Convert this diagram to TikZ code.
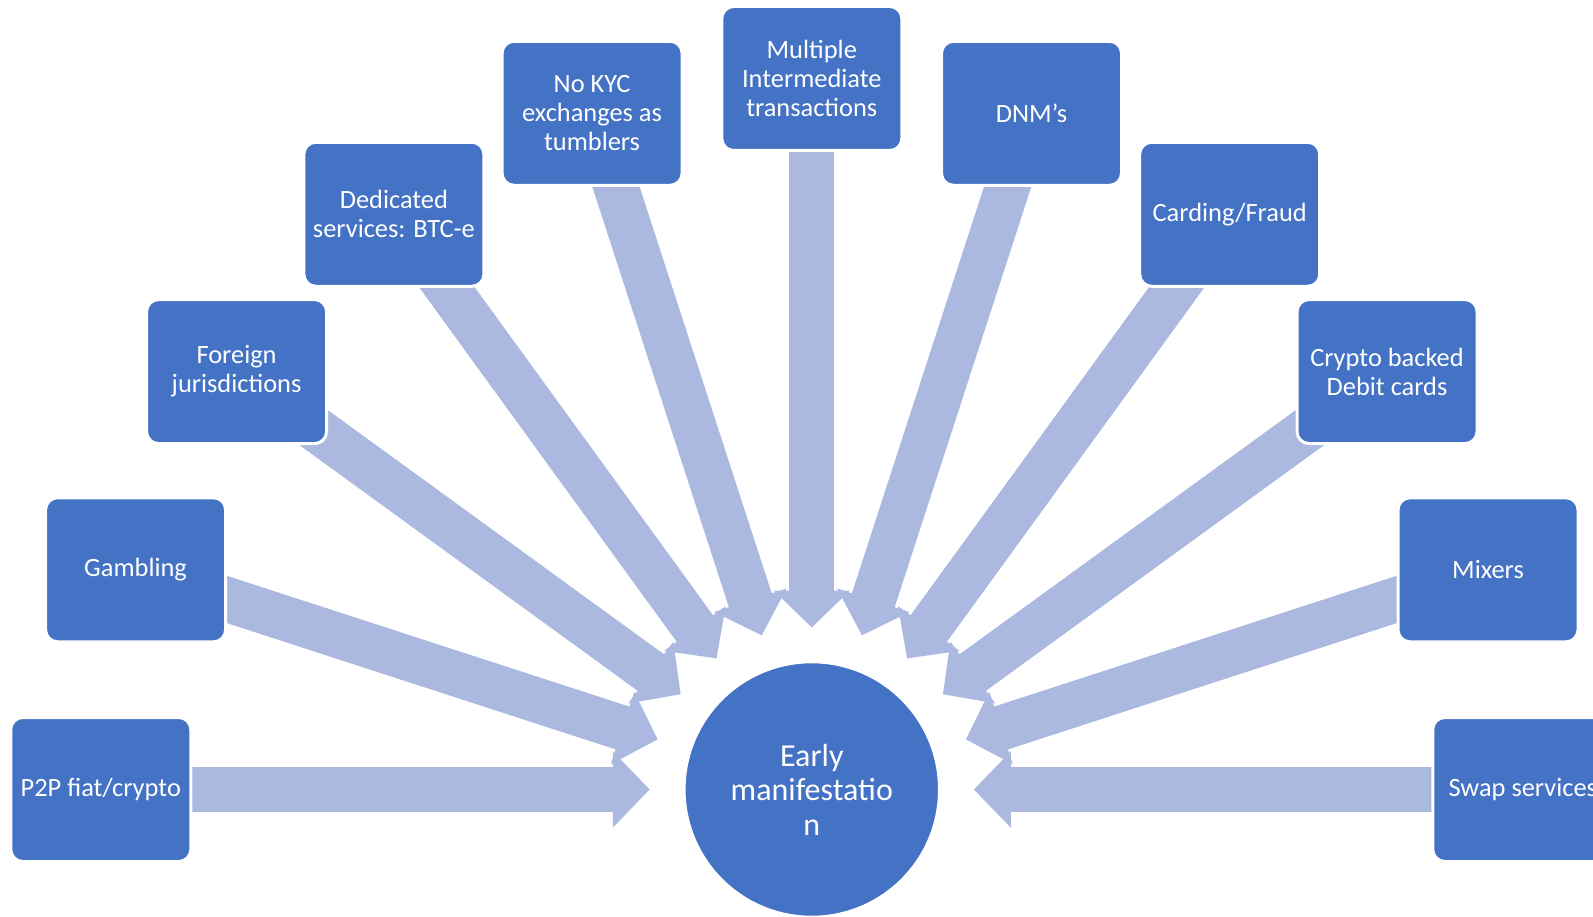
\documentclass[tikz,border=0pt]{standalone}
\usepackage{fontspec}
\setmainfont{Carlito}
\usepackage{tikz}
\usetikzlibrary{arrows.meta,shapes,backgrounds}
\definecolor{boxblue}{HTML}{4472C4}
\definecolor{arrowblue}{HTML}{ABB9E0}

\tikzset{
  box/.style={draw=white, line width=1.5pt, fill=boxblue, rounded corners=6pt,
    minimum width=90pt, minimum height=72pt, inner sep=2pt, align=center,
    text=white, font=\fontsize{13.2pt}{14.5pt}\selectfont},
  hub/.style={circle, draw=white, line width=0.8pt, fill=boxblue, minimum size=127pt,
    inner sep=0pt, align=center, text=white, font=\fontsize{16pt}{17.3pt}\selectfont},
  flow/.style={draw=arrowblue, line width=22.5pt, -{Triangle[length=18.5pt, width=37pt]}}
}

\begin{document}
\begin{tikzpicture}[x=0.5pt,y=0.5pt]

    \useasboundingbox (-811.8,-126.5) rectangle (781.2,789.5);

    % centre
    \node[hub] (early) at (0,0) {Early\\manifestatio\\n};

    % sources, every 18 degrees
    \node[box] (p2p) at (180:711) {P2P fiat/crypto};
    \node[box] (gambling) at (162:711) {Gambling};
    \node[box] (foreign) at (144:711) {Foreign\\jurisdictions};
    \node[box] (dedicated) at (126:711) {Dedicated\\services: BTC-e};
    \node[box] (nokyc) at (108:711) {No KYC\\exchanges as\\tumblers};
    \node[box] (multiple) at (90:711) {Multiple\\Intermediate\\transactions};
    \node[box] (dnm) at (72:711) {DNM’s};
    \node[box] (carding) at (54:711) {Carding/Fraud};
    \node[box] (debit) at (36:711) {Crypto backed\\Debit cards};
    \node[box] (mixers) at (18:711) {Mixers};
    \node[box] (swap) at (0:711) {Swap services};

    % arrows behind the boxes
    \begin{scope}[on background layer]
    \draw[flow] (p2p.center) -- (180:162);
    \draw[flow] (gambling.center) -- (162:162);
    \draw[flow] (foreign.center) -- (144:162);
    \draw[flow] (dedicated.center) -- (126:162);
    \draw[flow] (nokyc.center) -- (108:162);
    \draw[flow] (multiple.center) -- (90:162);
    \draw[flow] (dnm.center) -- (72:162);
    \draw[flow] (carding.center) -- (54:162);
    \draw[flow] (debit.center) -- (36:162);
    \draw[flow] (mixers.center) -- (18:162);
    \draw[flow] (swap.center) -- (0:162);
    \end{scope}

  \end{tikzpicture}
\end{document}
